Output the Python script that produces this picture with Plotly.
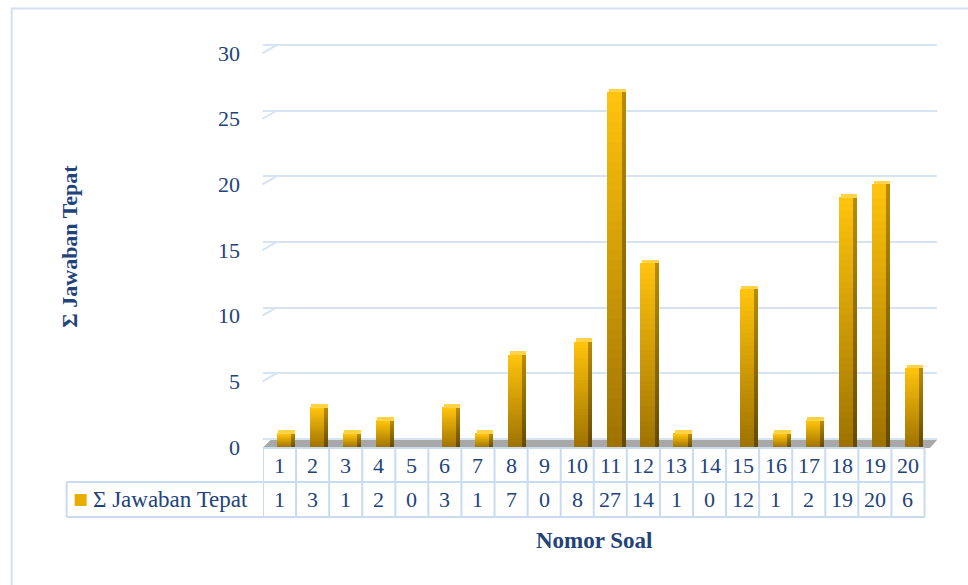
import plotly.graph_objects as go

# ---------------- data ----------------
categories = [str(i) for i in range(1, 21)]
values = [1, 3, 1, 2, 0, 3, 1, 7, 0, 8, 27, 14, 1, 0, 12, 1, 2, 19, 20, 6]
series_name = "Σ Jawaban Tepat"
y_title = "Σ Jawaban Tepat"
x_title = "Nomor Soal"
y_ticks = [0, 5, 10, 15, 20, 25, 30]

# ---------------- geometry helpers ----------------
W, H = 968, 585
PL, PR, PT, PB = 262.5, 937.0, 30.0, 447.0   # plot area in pixels
PX_PER_CAT = 33.1
x_lo = -0.5
x_hi = x_lo + (PR - PL) / PX_PER_CAT
PX_PER_UNIT = 13.13
y_hi = (PB - PT) / PX_PER_UNIT
BACK = 8 / PX_PER_UNIT   # 3D back-wall offset in data units

def px(p):
    return (p - PL) / (PR - PL)

def py(p):
    return (PB - p) / (PB - PT)

def lerp(c1, c2, t):
    return "rgb(%d,%d,%d)" % tuple(round(a + (b - a) * t) for a, b in zip(c1, c2))

TEXT = "#22437a"
GRID = "#d6e3f3"
TABLE_LINE = "#c9dbf0"
FONT = "Liberation Serif, Times New Roman, serif"

fig = go.Figure()

# ---------------- bars (front + side, vertical gradient) ----------------
N = 36
front_bot, front_top = (158, 114, 0), (255, 196, 12)
side_bot, side_top = (100, 74, 0), (185, 140, 0)
for k in range(N):
    t = (k + 0.5) / N
    bases = [v * k / N for v in values]
    seg = [v / N * 1.02 for v in values]
    fig.add_trace(go.Bar(x=categories, y=seg, base=bases, offset=-0.09, width=0.43,
                         marker=dict(color=lerp(front_bot, front_top, t), line=dict(width=0)),
                         showlegend=False, hoverinfo="skip"))
    fig.add_trace(go.Bar(x=categories, y=seg, base=bases, offset=0.34, width=0.12,
                         marker=dict(color=lerp(side_bot, side_top, t), line=dict(width=0)),
                         showlegend=False, hoverinfo="skip"))

# top caps
fig.add_trace(go.Bar(x=categories, y=[BACK * 0.45 if v > 0 else 0 for v in values],
                     base=values, offset=-0.04, width=0.5,
                     marker=dict(color="#ffd24a", line=dict(width=0)),
                     showlegend=False, hoverinfo="skip"))

# secondary axis only for the back-wall gridlines
fig.add_trace(go.Scatter(x=[None], y=[None], yaxis="y2", showlegend=False))

fig.update_layout(
    width=W, height=H,
    margin=dict(l=PL, r=W - PR, t=PT, b=H - PB),
    paper_bgcolor="white", plot_bgcolor="rgba(0,0,0,0)",
    barmode="overlay", bargap=0,
    font=dict(family=FONT, color=TEXT, size=22),
    xaxis=dict(range=[x_lo, x_hi], showticklabels=False, showgrid=False,
               zeroline=False, showline=False, type="category", fixedrange=True),
    yaxis=dict(range=[0, y_hi], tickvals=y_ticks, showgrid=False, zeroline=False,
               showline=False, ticks="", ticklabelstandoff=22,
               tickfont=dict(size=22, color=TEXT, family=FONT)),
    yaxis2=dict(range=[-BACK, y_hi - BACK], overlaying="y", tickvals=y_ticks,
                showgrid=True, gridcolor=GRID, gridwidth=2, showticklabels=False,
                zeroline=False, showline=False, ticks=""),
)

shapes = []
for v in y_ticks[1:]:
    shapes.append(dict(type="line", xref="paper", yref="y", x0=px(262), x1=px(276),
                       y0=v, y1=v + BACK, line=dict(color=GRID, width=2), layer="below"))
# floor
shapes.append(dict(type="path", xref="paper", yref="paper",
                   path="M %f,%f L %f,%f L %f,%f L %f,%f Z" % (
                       px(262), py(448), px(930), py(448), px(937), py(440), px(270), py(440)),
                   fillcolor="#a8a8a8", line=dict(width=0), layer="below"))

# data table lines
row_top, row_mid, row_bot = 448, 482, 517
left_cell = 66
for i in range(21):
    shapes.append(dict(type="line", xref="x", yref="paper", x0=i - 0.5, x1=i - 0.5,
                       y0=py(row_top), y1=py(row_bot), line=dict(color=TABLE_LINE, width=2)))
shapes.append(dict(type="line", xref="x", yref="paper", x0=-0.5, x1=len(categories) - 0.5,
                   y0=py(row_top), y1=py(row_top), line=dict(color=TABLE_LINE, width=2)))
for yy in (row_mid, row_bot):
    shapes.append(dict(type="line", xref="paper", yref="paper", x0=px(left_cell), x1=px(925),
                       y0=py(yy), y1=py(yy), line=dict(color=TABLE_LINE, width=2)))
shapes.append(dict(type="line", xref="paper", yref="paper", x0=px(left_cell), x1=px(left_cell),
                   y0=py(row_mid), y1=py(row_bot), line=dict(color=TABLE_LINE, width=2)))
# legend key
shapes.append(dict(type="rect", xref="paper", yref="paper", x0=px(74), x1=px(86),
                   y0=py(506), y1=py(494), fillcolor="#e8ad00", line=dict(width=0)))
# outer chart border
shapes.append(dict(type="rect", xref="paper", yref="paper", x0=px(11), x1=px(990),
                   y0=py(600), y1=py(8.5), line=dict(color="#d3e0f0", width=2),
                   fillcolor="rgba(0,0,0,0)", layer="below"))
fig.update_layout(shapes=shapes)

TF = dict(size=22, color=TEXT, family=FONT)
ann = []
for i, (c, v) in enumerate(zip(categories, values)):
    ann.append(dict(x=i, y=py((row_top + row_mid) / 2), xref="x", yref="paper", text=c,
                    showarrow=False, xanchor="center", yanchor="middle", font=TF))
    ann.append(dict(x=i, y=py((row_mid + row_bot) / 2), xref="x", yref="paper", text=str(v),
                    showarrow=False, xanchor="center", yanchor="middle", font=TF))
ann.append(dict(x=px(90), y=py((row_mid + row_bot) / 2), xref="paper", yref="paper",
                text=series_name, showarrow=False, xanchor="left", yanchor="middle",
                font=dict(size=23, color=TEXT, family=FONT)))
ann.append(dict(x=px(594), y=py(540), xref="paper", yref="paper", text="<b>%s</b>" % x_title,
                showarrow=False, xanchor="center", yanchor="middle",
                font=dict(size=23, color=TEXT, family=FONT)))
ann.append(dict(x=px(68), y=py(246), xref="paper", yref="paper", text="<b>%s</b>" % y_title,
                showarrow=False, textangle=-90, xanchor="center", yanchor="middle",
                font=dict(size=22, color=TEXT, family=FONT)))
fig.update_layout(annotations=ann)

fig.write_html("out.html")
